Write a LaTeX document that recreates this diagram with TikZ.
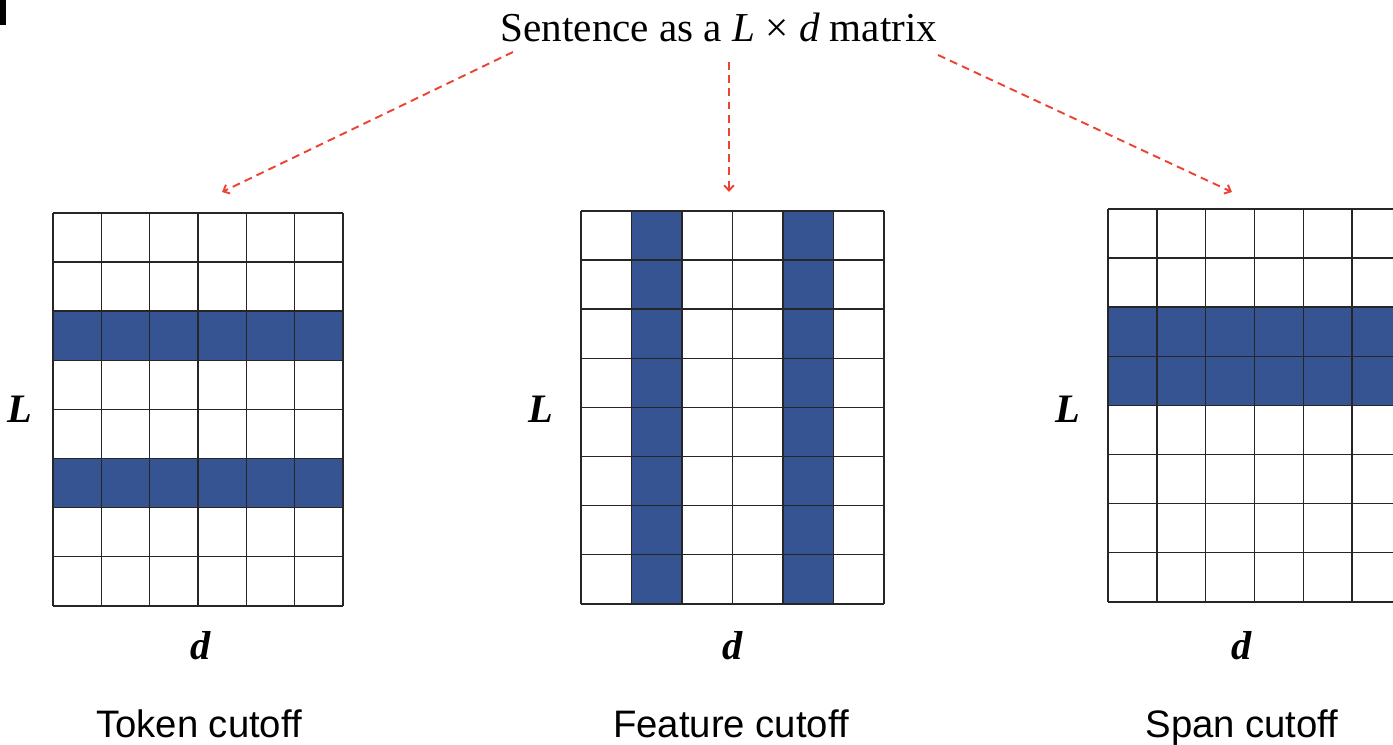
\documentclass[tikz,border=0pt]{standalone}
\usepackage{fontspec}
\setmainfont{Liberation Serif}
\setsansfont{Liberation Sans}
\usepackage{tikz}
\usetikzlibrary{arrows.meta}
\definecolor{cutblue}{RGB}{54,84,145}
\definecolor{arrred}{RGB}{236,68,52}
\tikzstyle{every node}=[inner sep=0pt]
\tikzstyle{gridline}=[line width=0.85pt,draw=black!85]
\tikzstyle{cut}=[fill=cutblue]
\tikzstyle{link}=[color=arrred,dash pattern=on 4.5pt off 3pt,line width=1.1pt,-{Straight Barb[length=3pt,width=5.5pt]}]
\tikzstyle{axis}=[font=\fontsize{23}{25}\selectfont\bfseries\itshape]
\tikzstyle{caption}=[anchor=base,font=\fontsize{21.8}{24}\selectfont\sffamily]

\begin{document}
\begin{tikzpicture}[x=0.02cm,y=-0.02cm]
\clip (0,0) rectangle (1393,744);
\useasboundingbox (0,0) rectangle (1393,744);
\fill (0,0) rectangle (6,25);
\node[anchor=base] (title) at (719,41) {\fontsize{23.4}{26}\selectfont Sentence as a \textit{L} × \textit{d} matrix};
% token cutoff: rows 3 and 6
\begin{scope}[shift={(53,213)}]
\foreach \r in {2,5} \fill[cut] (0,\r*49.1) rectangle (290,\r*49.1+49.1);
\foreach \i in {0,...,6} \draw[gridline] (\i*48.33,0) -- (\i*48.33,393);
\foreach \j in {0,...,8} \draw[gridline] (0,\j*49.1) -- (290,\j*49.1);
\end{scope}
% feature cutoff: columns 2 and 5
\begin{scope}[shift={(581,211)}]
\foreach \c in {1,4} \fill[cut] (\c*50.5,0) rectangle (\c*50.5+50.5,393);
\foreach \i in {0,...,6} \draw[gridline] (\i*50.5,0) -- (\i*50.5,393);
\foreach \j in {0,...,8} \draw[gridline] (0,\j*49.1) -- (303,\j*49.1);
\end{scope}
% span cutoff: rows 3-4
\begin{scope}[shift={(1108,209)}]
\fill[cut] (0,2*49.1) rectangle (293,4*49.1);
\foreach \i in {0,...,6} \draw[gridline] (\i*48.83,0) -- (\i*48.83,393);
\foreach \j in {0,...,8} \draw[gridline] (0,\j*49.1) -- (293,\j*49.1);
\end{scope}
\node[axis] (L1) at (20,409) {L};
\node[axis] (L2) at (541,409) {L};
\node[axis] (L3) at (1068,409) {L};
\node[axis] (d1) at (201,646) {d};
\node[axis] (d2) at (733,646) {d};
\node[axis] (d3) at (1242,646) {d};
\node[caption] (tok) at (199,737) {Token cutoff};
\node[caption] (feat) at (731,737) {Feature cutoff};
\node[caption] (span) at (1242,737) {Span cutoff};
\coordinate (s1) at (513,52);
\coordinate (s2) at (729,62);
\coordinate (s3) at (938,55);
\coordinate (e1) at (222,192);
\coordinate (e2) at (729,192);
\coordinate (e3) at (1232,192);
\draw[link] (s1) -- (e1);
\draw[link] (s2) -- (e2);
\draw[link] (s3) -- (e3);
\end{tikzpicture}
\end{document}
